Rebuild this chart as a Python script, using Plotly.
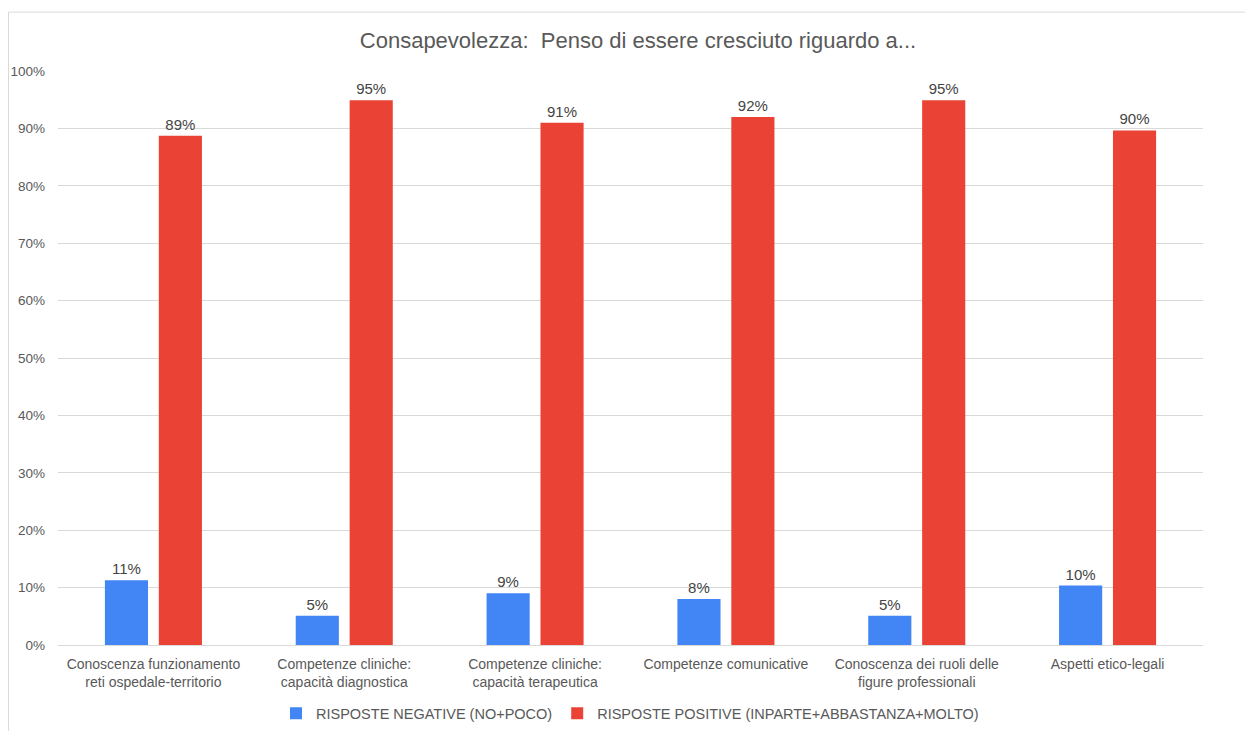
import plotly.graph_objects as go

categories = [
    "Conoscenza funzionamento<br>reti ospedale-territorio",
    "Competenze cliniche:<br>capacità diagnostica",
    "Competenze cliniche:<br>capacità terapeutica",
    "Competenze comunicative",
    "Conoscenza dei ruoli delle<br>figure professionali",
    "Aspetti etico-legali",
]
negative = [11.3, 5.1, 9.0, 8.0, 5.1, 10.35]
positive = [88.7, 94.9, 91.0, 92.0, 94.9, 89.65]
series_names = ["RISPOSTE NEGATIVE (NO+POCO)", "RISPOSTE POSITIVE (INPARTE+ABBASTANZA+MOLTO)"]
title_text = "Consapevolezza:  Penso di essere cresciuto riguardo a..."

FONT = "Liberation Sans, Arial, sans-serif"
OFF = 8  # page body margin
W, H = 1253 - OFF, 731 - OFF
L, R, T, B = 58 - OFF, 50, 70.5 - OFF, 85.5

fig = go.Figure()
for name, vals, col in [(series_names[0], negative, "#4285F4"), (series_names[1], positive, "#EA4335")]:
    fig.add_trace(go.Bar(
        x=categories, y=vals, name=name, marker=dict(color=col, line=dict(width=0)),
        texttemplate="%{y:.0f}%", textposition="outside", cliponaxis=False,
        textfont=dict(family=FONT, size=15, color="#444444"),
    ))

pw = W - L - R
ph = H - T - B
def px(x):  # page x -> paper
    return (x - OFF - L) / pw
def py(y):  # page y -> paper
    return (H - B - (y - OFF)) / ph

fig.update_layout(
    width=W, height=H,
    margin=dict(l=L, r=R, t=T, b=B, autoexpand=False),
    paper_bgcolor="white", plot_bgcolor="white",
    font=dict(family=FONT, size=14, color="#595959"),
    title=dict(text=title_text, x=px(638), xref="paper", xanchor="center", y=1 - (40 - OFF) / H, yanchor="middle",
               font=dict(family=FONT, size=22, color="#595959")),
    barmode="group", bargap=0.435, bargroupgap=0.2,
    showlegend=True,
    legend=dict(orientation="h", x=px(630), xanchor="center", y=py(714), yanchor="middle",
                font=dict(family=FONT, size=14.5, color="#595959"), itemwidth=30,
                traceorder="normal"),
    xaxis=dict(showgrid=False, showline=True, linecolor="#d9d9d9", linewidth=1, ticks="",
               ticklabelstandoff=6,
               tickfont=dict(family=FONT, size=14, color="#595959")),
    yaxis=dict(range=[0, 100], dtick=10, ticksuffix="%", showgrid=True, gridcolor="#d9d9d9",
               gridwidth=1, zeroline=False, showline=False, ticks="", ticklabelstandoff=12,
               tickfont=dict(family=FONT, size=13.5, color="#595959")),
    shapes=[
        dict(type="line", xref="paper", yref="paper", x0=px(8.5), x1=px(1260), y0=py(11.5), y1=py(11.5),
             line=dict(color="#d9d9d9", width=1)),
        dict(type="line", xref="paper", yref="paper", x0=px(8.5), x1=px(8.5), y0=py(11.5), y1=py(740),
             line=dict(color="#d9d9d9", width=1)),
    ],
)

fig.write_html("out.html")
